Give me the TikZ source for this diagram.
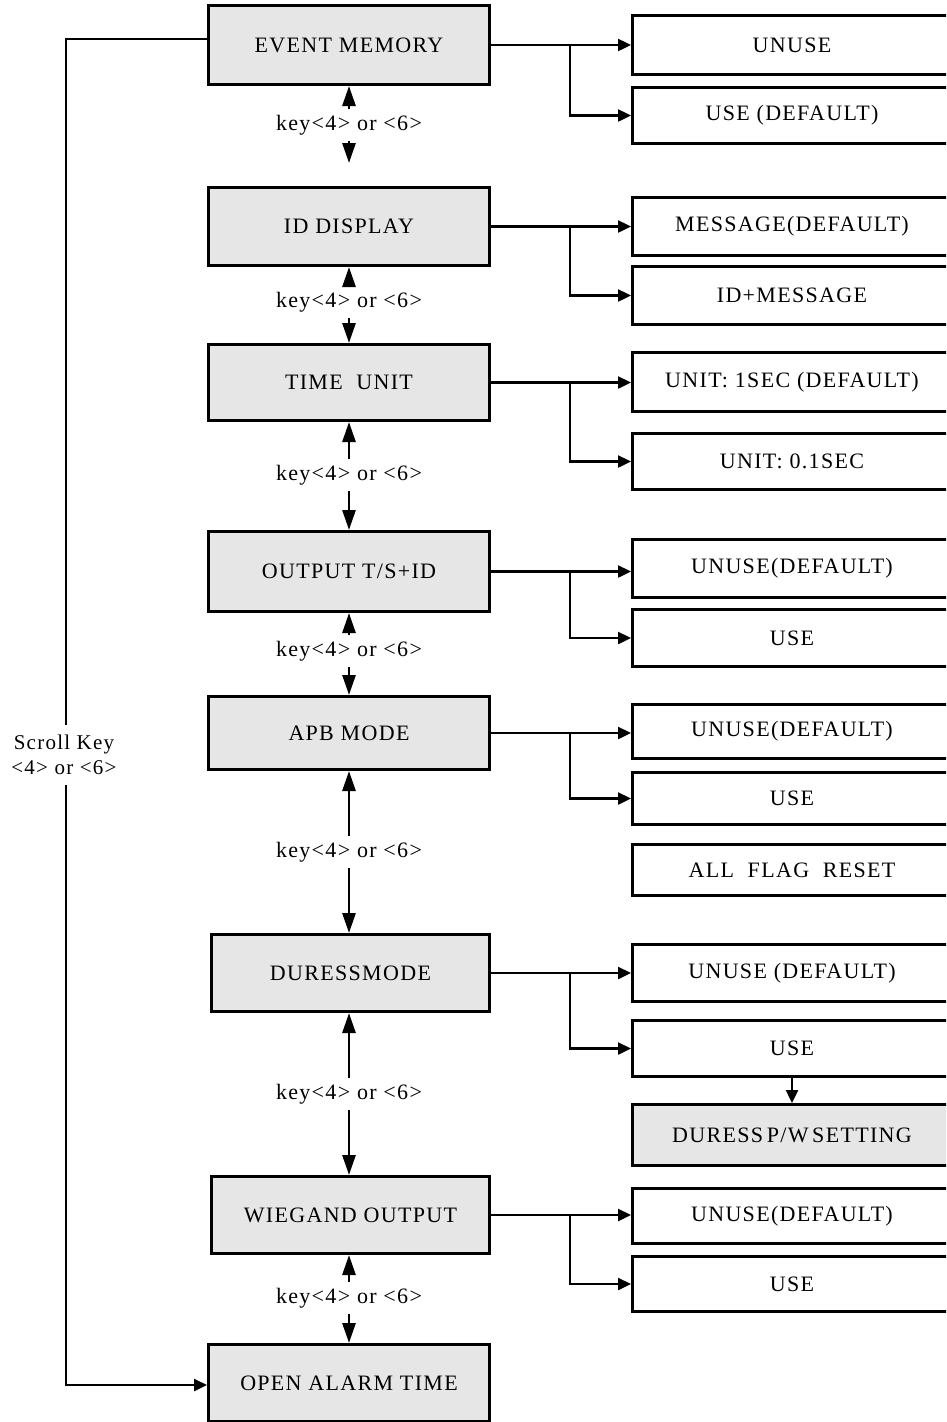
\documentclass[tikz,border=0pt]{standalone}
\usepackage{fontspec}
\setmainfont{Liberation Serif}[LetterSpace=6]
\usetikzlibrary{arrows.meta}
\definecolor{boxgray}{HTML}{E6E6E6}
\tikzset{
  lbox/.style={draw=black, line width=3pt, fill=boxgray, minimum width=281pt, inner sep=0pt, font=\fontsize{22}{26}\selectfont},
  rbox/.style={draw=black, line width=3pt, fill=white, minimum width=319pt, inner sep=0pt, font=\fontsize{22}{26}\selectfont},
  gbox/.style={rbox, fill=boxgray},
  keylbl/.style={inner sep=0pt, minimum height=32pt, font=\fontsize{22}{26}\selectfont},
  arr/.style={line width=2.4pt, -{Triangle[length=13pt,width=12pt]}},
  karr/.style={line width=2.8pt, -{Triangle[length=20pt,width=13pt]}},
  sline/.style={line width=2.4pt},
}
\begin{document}
\begin{tikzpicture}[x=1pt,y=-1pt]
\path[use as bounding box, clip] (0,0) rectangle (946,1422);

% left column
\node[lbox, minimum height=79pt] (em)  at (349,45)    {EVENT MEMORY};
\node[lbox, minimum height=78pt] (idd) at (349,226.5) {ID DISPLAY};
\node[lbox, minimum height=76pt] (tu)  at (349,382.5) {TIME\ \ UNIT};
\node[lbox, minimum height=80pt] (out) at (349,571.5) {OUTPUT T/S+ID};
\node[lbox, minimum height=73pt] (apb) at (349,733)   {APB MODE};
\node[lbox, minimum height=77pt, minimum width=278pt] (dur) at (350.5,973)  {DURESSMODE};
\node[lbox, minimum height=77pt, minimum width=278pt] (wie) at (350.5,1215) {WIEGAND OUTPUT};
\node[lbox, minimum height=77pt] (oat) at (349,1383)  {OPEN ALARM TIME};

% right column
\node[rbox, minimum height=59pt] (r1)  at (792,45)     {UNUSE};
\node[rbox, minimum height=56pt] (r2)  at (792,115.5)  {USE (DEFAULT)};
\node[rbox, minimum height=58pt] (r3)  at (792,226.5)  {MESSAGE(DEFAULT)};
\node[rbox, minimum height=58pt] (r4)  at (792,295.5)  {ID+MESSAGE};
\node[rbox, minimum height=59pt] (r5)  at (792,382)    {UNIT: 1SEC (DEFAULT)};
\node[rbox, minimum height=56pt] (r6)  at (792,461.5)  {UNIT: 0.1SEC};
\node[rbox, minimum height=58pt] (r7)  at (792,568.5)  {UNUSE(DEFAULT)};
\node[rbox, minimum height=57pt] (r8)  at (792,638)    {USE};
\node[rbox, minimum height=54pt] (r9)  at (792,731.5)  {UNUSE(DEFAULT)};
\node[rbox, minimum height=52pt] (r10) at (792,798.5)  {USE};
\node[rbox, minimum height=51pt] (r11) at (792,870)    {ALL\ \ FLAG\ \ RESET};
\node[rbox, minimum height=57pt] (r12) at (792,973)    {UNUSE (DEFAULT)};
\node[rbox, minimum height=56pt] (r13) at (792,1048.5) {USE};
\node[gbox, minimum height=61pt] (r14) at (792,1135)   {DURESS\,P/W\,SETTING};
\node[rbox, minimum height=55pt] (r15) at (792,1216)   {UNUSE(DEFAULT)};
\node[rbox, minimum height=55pt] (r16) at (792,1284)   {USE};

% key labels
\node[keylbl] (k1) at (349,125)  {key<4> or <6>};
\node[keylbl] (k2) at (349,302)  {key<4> or <6>};
\node[keylbl] (k3) at (349,475)  {key<4> or <6>};
\node[keylbl] (k4) at (349,651)  {key<4> or <6>};
\node[keylbl] (k5) at (349,852)  {key<4> or <6>};
\node[keylbl] (k6) at (349,1094) {key<4> or <6>};
\node[keylbl] (k7) at (349,1298) {key<4> or <6>};

% key arrows
\draw[karr] (k1.north) -- (k1.north |- em.south);
\draw[karr, shorten >=23pt] (k1.south) -- (k1.south |- idd.north);
\draw[karr] (k2.north) -- (k2.north |- idd.south);
\draw[karr] (k2.south) -- (k2.south |- tu.north);
\draw[karr] (k3.north) -- (k3.north |- tu.south);
\draw[karr] (k3.south) -- (k3.south |- out.north);
\draw[karr] (k4.north) -- (k4.north |- out.south);
\draw[karr] (k4.south) -- (k4.south |- apb.north);
\draw[karr] (k5.north) -- (k5.north |- apb.south);
\draw[karr] (k5.south) -- (k5.south |- dur.north);
\draw[karr] (k6.north) -- (k6.north |- dur.south);
\draw[karr] (k6.south) -- (k6.south |- wie.north);
\draw[karr] (k7.north) -- (k7.north |- wie.south);
\draw[karr] (k7.south) -- (k7.south |- oat.north);

% option connectors
\draw[arr] (em.east) -- (em.east -| r1.west);
\draw[arr] (em.east) ++(79,0) |- (r2.west);
\draw[arr] (idd.east) -- (idd.east -| r3.west);
\draw[arr] (idd.east) ++(79,0) |- (r4.west);
\draw[arr] (tu.east) -- (tu.east -| r5.west);
\draw[arr] (tu.east) ++(79,0) |- (r6.west);
\draw[arr] (out.east) -- (out.east -| r7.west);
\draw[arr] (out.east) ++(79,0) |- (r8.west);
\draw[arr] (apb.east) -- (apb.east -| r9.west);
\draw[arr] (apb.east) ++(79,0) |- (r10.west);
\draw[arr] (dur.east) -- (dur.east -| r12.west);
\draw[arr] (dur.east) ++(79,0) |- (r13.west);
\draw[arr] (wie.east) -- (wie.east -| r15.west);
\draw[arr] (wie.east) ++(79,0) |- (r16.west);
\draw[arr] (r13.south) -- (r14.north);

% scroll loop
\node[align=center, inner sep=0pt, minimum height=60pt, font=\fontsize{21}{25}\selectfont] (sk) at (64,755) {Scroll Key\\<4> or <6>};
\draw[sline] ([yshift=6pt]em.west) -| ([xshift=2pt]sk.north);
\draw[arr] ([xshift=2pt]sk.south) |- ([yshift=-2pt]oat.west);
\end{tikzpicture}
\end{document}
